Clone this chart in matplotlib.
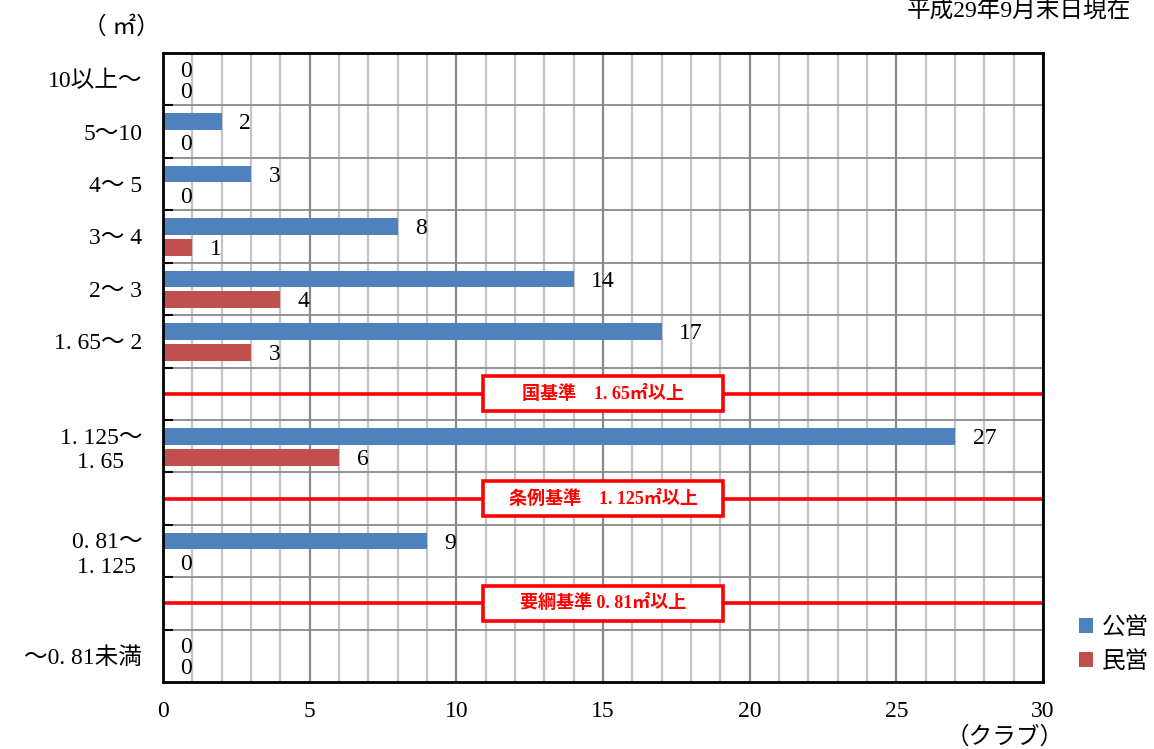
import matplotlib
matplotlib.use("Agg")
import matplotlib.pyplot as plt
from matplotlib.patches import Rectangle, Patch
import numpy as np

plt.rcParams['font.family'] = ['Liberation Serif', 'Noto Sans CJK JP', 'DejaVu Sans']

# ---- data ----
categories = ["10以上～", "5～10", "4～ 5", "3～ 4", "2～ 3", "1. 65～ 2",
              "1. 125～\n1. 65", "0. 81～\n1. 125", "～0. 81未満"]
public = [0, 2, 3, 8, 14, 17, 27, 9, 0]
private = [0, 0, 0, 1, 4, 3, 6, 0, 0]
series_names = ["公営", "民営"]
standards = ["国基準　1. 65㎡以上", "条例基準　1. 125㎡以上", "要綱基準 0. 81㎡以上"]
x_ticks = [0, 5, 10, 15, 20, 25, 30]

# row layout (top to bottom): data rows with gap rows holding the standards
row_pos = [0, 1, 2, 3, 4, 5, 7, 9, 11]
std_pos = [6, 8, 10]
n_rows = 12

blue = "#4F81BD"
red = "#C0504D"

fig = plt.figure(figsize=(11.54, 7.49), dpi=100)
ax = fig.add_axes([163/1154, 1-682/749, 880/1154, 629/749])

pos = np.array(row_pos, dtype=float)
bh = 0.32
ax.barh(pos - 0.19, public, height=bh, color=blue, zorder=3)
ax.barh(pos + 0.21, private, height=bh, color=red, zorder=3)

fs = 17
for p, v in zip(pos, public):
    ax.text(v + 0.6, p - 0.15, str(v), va='center', ha='left', fontsize=fs, zorder=5)
for p, v in zip(pos, private):
    ax.text(v + 0.6, p + 0.25, str(v), va='center', ha='left', fontsize=fs, zorder=5)

ax.set_xlim(0, 30)
ax.set_ylim(n_rows - 0.5, -0.5)

# grid
ax.set_xticks(x_ticks)
ax.set_xticks(np.arange(0, 31, 1), minor=True)
ax.grid(which='minor', axis='x', color='#c4c4c4', lw=1.6, zorder=0)
ax.grid(which='major', axis='x', color='#8a8a8a', lw=1.6, zorder=1)
ax.set_yticks(pos)
ax.set_yticklabels(categories, fontsize=fs, multialignment='center')
ax.set_yticks(np.arange(0.5, n_rows - 0.5, 1), minor=True)
ax.grid(which='minor', axis='y', color='#8a8a8a', lw=1.3, zorder=1)
ax.tick_params(axis='y', which='major', length=0, pad=15)
ax.tick_params(axis='y', which='minor', length=7, width=1.5, direction='in', color='black')
ax.tick_params(axis='x', which='both', length=0, pad=14, labelsize=fs)
for s in ax.spines.values():
    s.set_linewidth(2)
    s.set_color('black')
    s.set_zorder(6)

# standards lines with boxed labels
box_w = 8.2
box_h = 0.66
for p, label in zip(std_pos, standards):
    ax.axhline(p, color='#FF0000', lw=2.6, zorder=4)
    ax.add_patch(Rectangle((15 - box_w/2, p - box_h/2), box_w, box_h,
                           facecolor='white', edgecolor='#FF0000', lw=2.6, zorder=4.5))
    ax.text(15, p, label, ha='center', va='center', color='#FF0000',
            fontsize=13, fontweight='bold', zorder=5)

# annotations
fig.text(121/1154, 1-27/749, "（ ㎡）", ha='center', va='center', fontsize=fs)
fig.text(907/1154, 1-12/749, "平成29年9月末日現在", ha='left', va='center', fontsize=fs)
fig.text(1005/1154, 1-738/749, "（クラブ）", ha='center', va='center', fontsize=fs)

handles = [Patch(facecolor=blue), Patch(facecolor=red)]
fig.legend(handles, series_names, loc='center left',
           bbox_to_anchor=(1058/1154, 1-645/749), frameon=False,
           handlelength=0.6, handleheight=0.6, handletextpad=0.35,
           labelspacing=0.55, fontsize=fs)

fig.savefig("out.png", dpi=100)
